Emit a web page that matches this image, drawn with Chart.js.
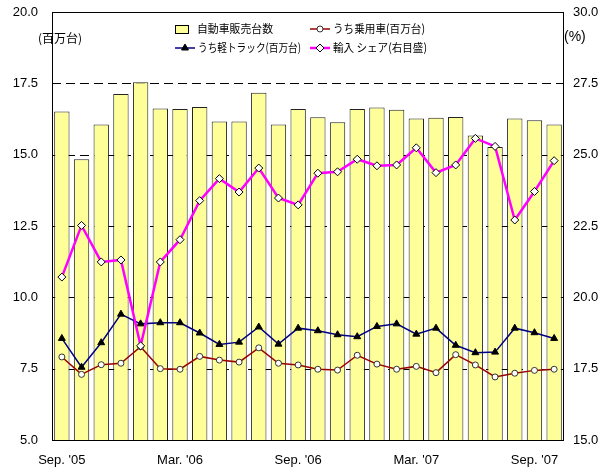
<!DOCTYPE html>
<html>
<head>
<meta charset="utf-8">
<script src="https://cdn.jsdelivr.net/npm/chart.js@4"></script>
<style>
  body { margin: 0; background: #fff; }
  #wrap { width: 611px; height: 470px; }
</style>
</head>
<body>
<div id="wrap"><canvas id="salesChart" width="611" height="470"></canvas></div>
<script>
// months Sep '05 .. Oct '07
const months = [
  "Sep. '05", "Oct. '05", "Nov. '05", "Dec. '05", "Jan. '06", "Feb. '06",
  "Mar. '06", "Apr. '06", "May '06", "Jun. '06", "Jul. '06", "Aug. '06",
  "Sep. '06", "Oct. '06", "Nov. '06", "Dec. '06", "Jan. '07", "Feb. '07",
  "Mar. '07", "Apr. '07", "May '07", "Jun. '07", "Jul. '07", "Aug. '07",
  "Sep. '07", "Oct. '07",
];
const shownMonths = ["Sep. '05", "Mar. '06", "Sep. '06", "Mar. '07", "Sep. '07"];

// million units (left axis)
const totalSales = [
  16.51, 14.84, 16.06, 17.13, 17.54, 16.62, 16.60, 16.67, 16.16, 16.16,
  17.17, 16.06, 16.60, 16.31, 16.14, 16.60, 16.65, 16.57, 16.27, 16.29,
  16.32, 15.67, 15.27, 16.27, 16.21, 16.06,
];
const passengerCars = [
  7.91, 7.30, 7.64, 7.69, 8.27, 7.50, 7.48, 7.93, 7.80, 7.73,
  8.23, 7.69, 7.63, 7.48, 7.45, 7.97, 7.66, 7.48, 7.58, 7.36,
  7.99, 7.63, 7.21, 7.34, 7.44, 7.48,
];
const lightTrucks = [
  8.56, 7.55, 8.41, 9.41, 9.07, 9.11, 9.11, 8.75, 8.35, 8.43,
  8.96, 8.36, 8.92, 8.83, 8.69, 8.62, 8.98, 9.07, 8.71, 8.92,
  8.32, 8.06, 8.08, 8.92, 8.76, 8.56,
];
// percent (right axis)
const importShare = [
  20.71, 22.52, 21.24, 21.31, 18.30, 21.24, 22.02, 23.39, 24.16, 23.69,
  24.53, 23.48, 23.24, 24.35, 24.40, 24.84, 24.61, 24.64, 25.24, 24.37,
  24.64, 25.57, 25.29, 22.71, 23.71, 24.79,
];

const tickFont = { family: "'Liberation Sans', Arial, sans-serif", size: 13 };
const jpFont = "'Noto Sans CJK JP', sans-serif";

// dashed grid behind the bars + plot frame
const gridFrame = {
  id: "gridFrame",
  beforeDatasetsDraw(chart) {
    const { ctx, chartArea: a } = chart;
    const y = chart.scales.y;
    ctx.save();
    ctx.strokeStyle = "#000";
    ctx.lineWidth = 1;
    ctx.setLineDash([9, 5]);
    y.ticks.forEach((t) => {
      if (t.value <= y.min || t.value >= y.max) return;
      const py = Math.round(y.getPixelForValue(t.value)) + 0.5;
      ctx.beginPath();
      ctx.moveTo(a.left, py);
      ctx.lineTo(a.right, py);
      ctx.stroke();
    });
    ctx.setLineDash([]);
    ctx.strokeRect(Math.round(a.left) + 0.5, Math.round(a.top) + 0.5,
      Math.round(a.right - a.left) - 1, Math.round(a.bottom - a.top));
    ctx.restore();
  },
};

// legend laid out 2x2 inside the plot, plus unit labels
const legendBox = {
  id: "legendBox",
  afterDraw(chart) {
    const ctx = chart.ctx;
    const ds = chart.data.datasets;
    const slots = [
      { i: 0, x: 175, y: 29, w: 76 },
      { i: 1, x: 310, y: 29, w: 92 },
      { i: 2, x: 175, y: 48, w: 103 },
      { i: 3, x: 310, y: 48, w: 94 },
    ];
    ctx.save();
    slots.forEach((s) => {
      const d = ds[s.i];
      let tx;
      if (d.type === "bar") {
        ctx.fillStyle = d.backgroundColor;
        ctx.fillRect(s.x, s.y - 4, 13, 8);
        ctx.strokeStyle = "#000";
        ctx.lineWidth = 1;
        ctx.strokeRect(s.x + 0.5, s.y - 3.5, 13, 8);
        tx = s.x + 22;
      } else {
        ctx.strokeStyle = d.borderColor;
        ctx.lineWidth = d.borderWidth;
        ctx.beginPath();
        ctx.moveTo(s.x, s.y);
        ctx.lineTo(s.x + 20, s.y);
        ctx.stroke();
        ctx.fillStyle = d.pointBackgroundColor;
        ctx.strokeStyle = d.pointBorderColor;
        ctx.lineWidth = 1;
        Chart.helpers.drawPoint(ctx, {
          pointStyle: d.pointStyle, radius: d.pointRadius, rotation: 0, borderWidth: 1,
        }, s.x + 10, s.y);
        tx = s.x + 23;
      }
      ctx.fillStyle = "#000";
      ctx.font = "11.5px " + jpFont;
      ctx.textBaseline = "middle";
      ctx.textAlign = "left";
      ctx.fillText(d.label, tx, s.y, s.w);
    });
    ctx.font = "12px " + jpFont;
    ctx.textAlign = "center";
    ctx.textBaseline = "middle";
    ctx.fillText("(百万台)", 60, 38);
    ctx.font = "14px 'Liberation Sans', Arial, sans-serif";
    ctx.textAlign = "left";
    ctx.fillText("(%)", 564, 37);
    ctx.restore();
  },
};

// keep the tick padding from pushing the plot area down
function fixSide(scale, width) {
  scale.width = width;
  scale.paddingTop = 8;
  scale.paddingBottom = 8;
}

new Chart(document.getElementById("salesChart"), {
  type: "bar",
  data: {
    labels: months,
    datasets: [
      {
        type: "bar",
        label: "自動車販売台数",
        data: totalSales,
        yAxisID: "y",
        backgroundColor: "#FFFF99",
        borderColor: "#222",
        borderWidth: { top: 1, left: 1, right: 1, bottom: 0 },
        barPercentage: 0.78,
        categoryPercentage: 1,
        order: 4,
      },
      {
        type: "line",
        label: "うち乗用車(百万台)",
        data: passengerCars,
        yAxisID: "y",
        borderColor: "#990000",
        borderWidth: 1.5,
        pointStyle: "circle",
        pointRadius: 3,
        pointBackgroundColor: "#fff",
        pointBorderColor: "#333",
        pointBorderWidth: 1,
        order: 3,
      },
      {
        type: "line",
        label: "うち軽トラック(百万台)",
        data: lightTrucks,
        yAxisID: "y",
        borderColor: "#000080",
        borderWidth: 1.5,
        pointStyle: "triangle",
        pointRadius: 4,
        pointBackgroundColor: "#000",
        pointBorderColor: "#000",
        pointBorderWidth: 1,
        order: 2,
      },
      {
        type: "line",
        label: "輸入 シェア(右目盛)",
        data: importShare,
        yAxisID: "y1",
        borderColor: "#FF00FF",
        borderWidth: 2.5,
        pointStyle: "rectRot",
        pointRadius: 4,
        pointBackgroundColor: "#fff",
        pointBorderColor: "#000",
        pointBorderWidth: 1,
        order: 1,
      },
    ],
  },
  options: {
    responsive: false,
    devicePixelRatio: 1,
    animation: false,
    layout: { padding: { top: 12, left: 0, right: 0, bottom: 0 } },
    plugins: {
      legend: { display: false },
      tooltip: { enabled: false },
    },
    scales: {
      x: {
        offset: true,
        grid: { display: false, drawTicks: false },
        border: { display: false },
        ticks: {
          autoSkip: false,
          maxRotation: 0,
          padding: 13,
          color: "#000",
          font: tickFont,
          callback: function (value, index) {
            const m = months[index];
            return shownMonths.includes(m) ? m : "";
          },
        },
        afterFit: (scale) => { scale.height = 30; },
      },
      y: {
        position: "left",
        min: 5,
        max: 20,
        grid: { display: false, drawTicks: false },
        border: { display: false },
        ticks: {
          stepSize: 2.5,
          padding: 14,
          color: "#000",
          font: tickFont,
          callback: (v) => v.toFixed(1),
        },
        afterFit: (scale) => fixSide(scale, 52),
      },
      y1: {
        position: "right",
        min: 15,
        max: 30,
        grid: { display: false, drawTicks: false },
        border: { display: false },
        ticks: {
          stepSize: 2.5,
          padding: 9,
          color: "#000",
          font: tickFont,
          callback: (v) => v.toFixed(1),
        },
        afterFit: (scale) => fixSide(scale, 47),
      },
    },
  },
  plugins: [gridFrame, legendBox],
});
</script>
</body>
</html>
